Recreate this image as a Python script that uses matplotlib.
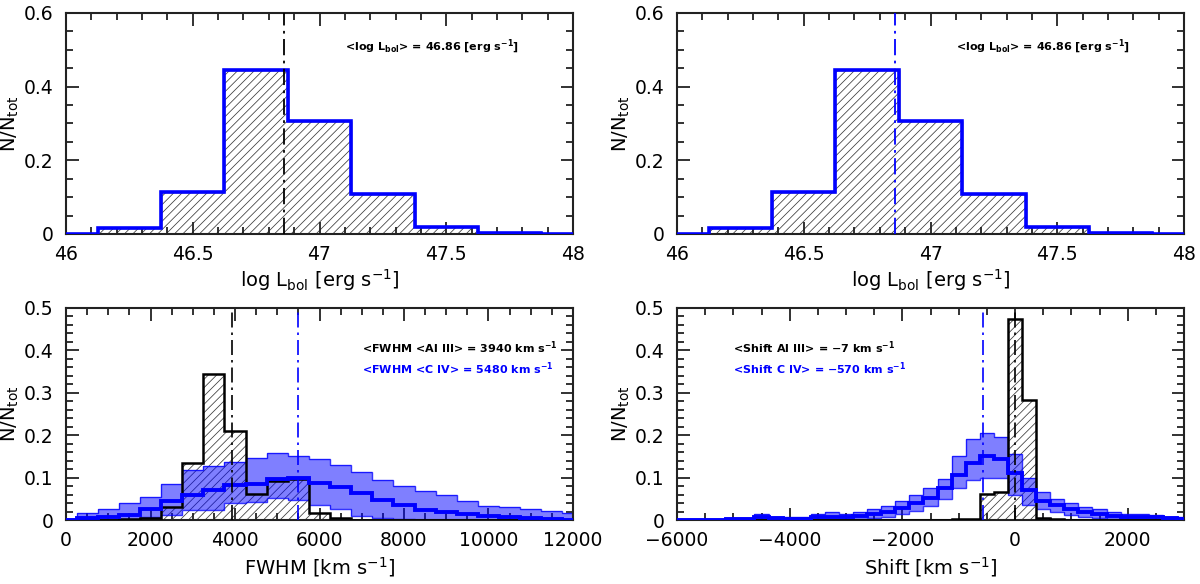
import numpy as np
import matplotlib
matplotlib.use("Agg")
import matplotlib.pyplot as plt
from matplotlib.ticker import MultipleLocator, FuncFormatter

plt.rcParams['font.family'] = ['DejaVu Sans']
plt.rcParams['hatch.linewidth'] = 0.55
plt.rcParams['mathtext.default'] = 'regular'

# ---------------- data ----------------
# top panels: log L_bol distribution
lbol_edges = [46.0, 46.125, 46.375, 46.625, 46.875, 47.125, 47.375, 47.625, 47.875, 48.0]
lbol_frac = [0.0, 0.015, 0.113, 0.445, 0.308, 0.108, 0.020, 0.003, 0.0]
lbol_mean = 46.86

# bottom-left: FWHM distributions (bin centres every 500 km/s)
fwhm_centres = np.arange(0, 12001, 500)
fwhm_alIII = [0, 0, 0.001, 0.002, 0.004, 0.030, 0.134, 0.345, 0.209, 0.062, 0.093, 0.097,
              0.016, 0.004, 0.001, 0, 0, 0, 0, 0, 0, 0, 0, 0, 0]
fwhm_civ_med = [0.001, 0.004, 0.006, 0.012, 0.025, 0.045, 0.059, 0.071, 0.083, 0.085, 0.096, 0.100,
                0.088, 0.077, 0.063, 0.047, 0.035, 0.024, 0.020, 0.014, 0.009, 0.006, 0.004, 0.002, 0.001]
fwhm_civ_hi = [0.003, 0.017, 0.025, 0.039, 0.055, 0.085, 0.118, 0.128, 0.136, 0.147, 0.157, 0.151,
               0.143, 0.130, 0.114, 0.095, 0.080, 0.068, 0.058, 0.045, 0.032, 0.030, 0.025, 0.022, 0.017]
fwhm_civ_lo = [0, 0, 0, 0, 0.006, 0.012, 0.024, 0.024, 0.040, 0.042, 0.052, 0.048,
               0.035, 0.025, 0.010, 0.004, 0.002, 0, 0, 0, 0, 0, 0, 0, 0]
fwhm_mean_alIII = 3940
fwhm_mean_civ = 5480

# bottom-right: Shift distributions (bin centres every 250 km/s)
shift_centres = np.arange(-6000, 3001, 250)
shift_alIII = [0, 0, 0, 0, 0, 0, 0, 0, 0, 0, 0, 0, 0, 0, 0.001, 0.001, 0.001, 0.001, 0.001, 0.001,
               0.002, 0.003, 0.062, 0.065, 0.475, 0.282, 0.004, 0.002, 0.001, 0.001, 0, 0, 0, 0, 0, 0, 0]
shift_civ_med = [0.001, 0.001, 0.001, 0.001, 0.002, 0.002, 0.007, 0.004, 0.003, 0.003, 0.006, 0.007,
                 0.006, 0.009, 0.013, 0.018, 0.028, 0.040, 0.052, 0.075, 0.105, 0.135, 0.150, 0.145,
                 0.110, 0.070, 0.045, 0.035, 0.025, 0.018, 0.014, 0.010, 0.008, 0.008, 0.006, 0.004, 0.003]
shift_civ_hi = [0.002, 0.002, 0.003, 0.003, 0.004, 0.004, 0.015, 0.008, 0.006, 0.007, 0.015, 0.018,
                0.014, 0.020, 0.025, 0.032, 0.045, 0.058, 0.075, 0.097, 0.150, 0.190, 0.205, 0.195,
                0.155, 0.100, 0.065, 0.050, 0.040, 0.030, 0.025, 0.020, 0.015, 0.015, 0.012, 0.008, 0.006]
shift_civ_lo = [0, 0, 0, 0, 0, 0, 0.002, 0, 0, 0, 0.001, 0.001,
                0.001, 0.002, 0.004, 0.006, 0.013, 0.022, 0.032, 0.050, 0.075, 0.095, 0.100, 0.100,
                0.060, 0.035, 0.025, 0.018, 0.012, 0.008, 0.005, 0.003, 0.002, 0.002, 0.001, 0, 0]
shift_mean_alIII = -7
shift_mean_civ = -570

BLUE = '#0000ff'
HATCH_C = '#3a3a3a'
DASHDOT = (0, (9, 3, 1.5, 3))

# ---------------- figure ----------------
W, H = 1200, 584
fig = plt.figure(figsize=(W / 100, H / 100), dpi=100)
axTL = fig.add_axes([66 / W, 1 - 234 / H, 507 / W, 221 / H])
axTR = fig.add_axes([677 / W, 1 - 234 / H, 507 / W, 221 / H])
axBL = fig.add_axes([66 / W, 1 - 520 / H, 507 / W, 212 / H])
axBR = fig.add_axes([677 / W, 1 - 520 / H, 507 / W, 212 / H])

fmt = FuncFormatter(lambda v, p: ('%g' % v).replace('-', '\u2212'))


def style(ax, xlim, ylim, xmaj, xmin, ymaj, ymin, xlabel, lab_y):
    ax.set_xlim(*xlim)
    ax.set_ylim(*ylim)
    ax.xaxis.set_major_locator(MultipleLocator(xmaj))
    ax.xaxis.set_minor_locator(MultipleLocator(xmin))
    ax.yaxis.set_major_locator(MultipleLocator(ymaj))
    ax.yaxis.set_minor_locator(MultipleLocator(ymin))
    ax.xaxis.set_major_formatter(fmt)
    ax.yaxis.set_major_formatter(fmt)
    ax.tick_params(which='both', direction='in', top=True, right=True,
                   width=1.3, color='#222222', labelsize=13.5)
    ax.tick_params(which='major', length=9)
    ax.tick_params(which='minor', length=5)
    ax.tick_params(axis='x', pad=8)
    ax.tick_params(axis='y', pad=9)
    for s in ax.spines.values():
        s.set_linewidth(1.5)
        s.set_color('#222222')
    ax.set_ylabel(r'N/N$_{tot}$', fontsize=14)
    ax.yaxis.set_label_coords(-0.088, 0.5)
    ax.set_xlabel(xlabel, fontsize=14, va='top')
    ax.xaxis.set_label_coords(0.5, lab_y)


def edges_from_centres(c, step):
    c = np.asarray(c, dtype=float)
    return np.append(c - step / 2, c[-1] + step / 2)


# ---- top panels ----
for ax, mcol in [(axTL, 'black'), (axTR, BLUE)]:
    ax.stairs(lbol_frac, lbol_edges, fill=True, hatch='////', facecolor='none',
              edgecolor=HATCH_C, linewidth=0, zorder=1)
    ax.stairs(lbol_frac, lbol_edges, color='black', linewidth=1.0, zorder=2)
    ax.stairs(lbol_frac, lbol_edges, color=BLUE, linewidth=2.6, zorder=3)
    ax.axvline(lbol_mean, color=mcol, linestyle=DASHDOT, linewidth=1.3, zorder=4)
    ax.text(47.1, 0.508, r'<log L$_{bol}$> = 46.86 [erg s$^{-1}$]', fontsize=8,
            fontweight='bold', va='center', ha='left', color='black')
    style(ax, (46, 48), (0, 0.6), 0.5, 0.1, 0.2, 0.05,
          r'log L$_{bol}$ [erg s$^{-1}$]', -0.15)


def draw_bottom(ax, centres, step, black, med, hi, lo, m_black, m_blue):
    e = edges_from_centres(centres, step)
    ax.stairs(black, e, fill=True, hatch='////', facecolor='none',
              edgecolor=HATCH_C, linewidth=0, zorder=1)
    ax.stairs(hi, e, baseline=lo, fill=True, facecolor=BLUE, alpha=0.5,
              linewidth=0, zorder=2)
    ax.stairs(hi, e, baseline=None, color=BLUE, linewidth=1.0, alpha=0.8, zorder=2.5)
    ax.stairs(lo, e, baseline=None, color=BLUE, linewidth=1.0, alpha=0.8, zorder=2.5)
    ax.stairs(black, e, color='black', linewidth=1.8, zorder=3)
    ax.stairs(med, e, baseline=None, color=BLUE, linewidth=2.8, zorder=4)
    ax.axvline(m_black, color='black', linestyle=DASHDOT, linewidth=1.2, zorder=5)
    ax.axvline(m_blue, color=BLUE, linestyle=DASHDOT, linewidth=1.2, zorder=5)


draw_bottom(axBL, fwhm_centres, 500, fwhm_alIII, fwhm_civ_med, fwhm_civ_hi, fwhm_civ_lo,
            fwhm_mean_alIII, fwhm_mean_civ)
style(axBL, (0, 12000), (0, 0.5), 2000, 500, 0.1, 0.02, r'FWHM [km s$^{-1}$]', -0.165)
axBL.text(7000, 0.406, r'<FWHM <Al III> = 3940 km s$^{-1}$', fontsize=8, fontweight='bold',
          va='center', color='black')
axBL.text(7000, 0.356, r'<FWHM <C IV> = 5480 km s$^{-1}$', fontsize=8, fontweight='bold',
          va='center', color=BLUE)

draw_bottom(axBR, shift_centres, 250, shift_alIII, shift_civ_med, shift_civ_hi, shift_civ_lo,
            shift_mean_alIII, shift_mean_civ)
style(axBR, (-6000, 3000), (0, 0.5), 2000, 500, 0.1, 0.02, r'Shift [km s$^{-1}$]', -0.165)
axBR.text(-5000, 0.406, '<Shift Al III> = \u22127 km s$^{-1}$', fontsize=8, fontweight='bold',
          va='center', color='black')
axBR.text(-5000, 0.356, '<Shift C IV> = \u2212570 km s$^{-1}$', fontsize=8, fontweight='bold',
          va='center', color=BLUE)

fig.savefig('out.png', dpi=100)
